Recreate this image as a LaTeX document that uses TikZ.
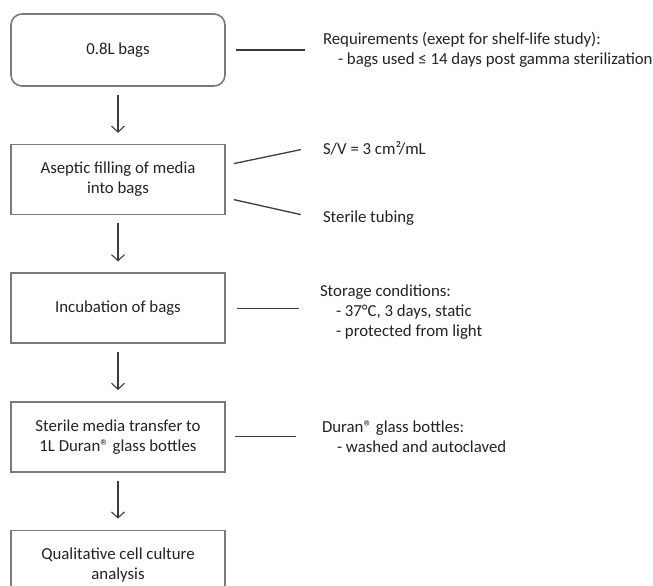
\documentclass[tikz,border=0pt]{standalone}
\usepackage{fontspec}
\setmainfont{Carlito}
\usetikzlibrary{positioning, arrows.meta}
\tikzset{>={Straight Barb[length=6pt,width=13pt]}}
\definecolor{boxgray}{HTML}{7A7A7A}
\definecolor{linegray}{HTML}{3C3C3C}
\definecolor{textgray}{HTML}{222222}

\begin{document}
\begin{tikzpicture}[
    x=1pt, y=1pt,
    font=\fontsize{16.8}{20}\selectfont,
    text=textgray,
    node distance=57pt and 97pt,
    stage/.style={draw=boxgray, line width=1.6pt, align=center,
                  minimum width=214pt, minimum height=70pt, inner sep=2pt},
    start/.style={stage, rounded corners=11pt, minimum height=72pt},
    note/.style={align=left, inner sep=0pt},
    flow/.style={->, line width=1.1pt, draw=linegray,
                 shorten <=8pt, shorten >=11pt},
    link/.style={line width=1.3pt, draw=linegray},
  ]
  \clip (0,0) rectangle (653,-586);
  \node[start] (b1) at (118,-50) {0.8L bags};
  \node[stage, below=of b1] (b2) {Aseptic filling of media\\into bags};
  \node[stage, below=of b2] (b3) {Incubation of bags};
  \node[stage, below=of b3] (b4) {Sterile media transfer to\\1L Duran® glass bottles};
  \node[stage, below=of b4] (b5) {Qualitative cell culture\\analysis};
  \node[note, right=of b1] (n1) {Requirements (exept for shelf-life study):\\
    \hspace*{15pt}- bags used ≤ 14 days post gamma sterilization};
  \node[note, right=of b2, yshift=31pt] (sv) {S/V = 3 cm²/mL};
  \node[note, right=of b2, yshift=-39pt] (tube) {Sterile tubing};
  \node[note, right=94pt of b3, yshift=-4pt] (n3) {Storage conditions:\\
    \hspace*{16pt}- 37°C, 3 days, static\\
    \hspace*{16pt}- protected from light};
  \node[note, right=96pt of b4] (n4) {Duran® glass bottles:\\
    \hspace*{15pt}- washed and autoclaved};
  \foreach \a/\b in {b1/b2, b2/b3, b3/b4, b4/b5}
    \draw[flow] (\a) -- (\b);
  \draw[link] ([xshift=10pt]b1.east) -- ([xshift=-18pt]n1.west);
  \draw[link] ([shift={(8pt,16pt)}]b2.east) -- ([shift={(-22pt,-1pt)}]sv.west);
  \draw[link] ([shift={(8pt,-20pt)}]b2.east) -- ([shift={(-22pt,4pt)}]tube.west);
  \draw[link] ([xshift=11pt]b3.east) -- ([xshift=-21pt]b3.east -| n3.west);
  \draw[link] ([xshift=9pt]b4.east) -- ([xshift=-26pt]n4.west);
\end{tikzpicture}
\end{document}
